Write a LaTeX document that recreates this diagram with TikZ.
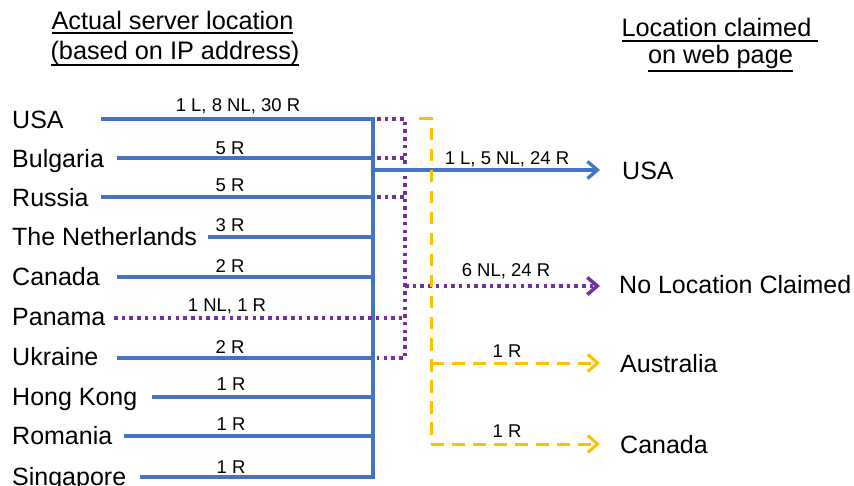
\documentclass[tikz,border=0pt]{standalone}
\usepackage{fontspec}
\setmainfont{Liberation Sans}
\usetikzlibrary{arrows.meta}
\definecolor{cblue}{HTML}{4472C4}
\definecolor{cpurple}{HTML}{7030A0}
\definecolor{cyellow}{HTML}{FFC000}
\newcommand\myul[2]{{\setbox0\hbox{#2}\rlap{\rule[-#1]{\wd0}{1.6pt}}\box0}}
\begin{document}
\begin{tikzpicture}[x=1pt,y=-1pt,
  country/.style={anchor=base west,inner sep=0pt,font=\fontsize{25}{28}\selectfont},
  count/.style={anchor=base,inner sep=0pt,font=\fontsize{18.5}{21}\selectfont},
  head/.style={anchor=base,inner sep=0pt,font=\fontsize{25.3}{28}\selectfont},
  bl/.style={draw=cblue,line width=3.3pt},
  pu/.style={draw=cpurple,line width=3.5pt,dash pattern=on 3.5pt off 4.2pt},
  ye/.style={draw=cyellow,line width=3pt,dash pattern=on 12.5pt off 8.5pt},
  tip/.style={-{Straight Barb[length=10pt,width=17pt]}}
]
\useasboundingbox (0,0) rectangle (854,486);

% headings
\node[head] (h1) at (172.5,30) {\myul{3.8pt}{Actual server location}};
\node[head] (h2) at (175,59.5) {\myul{6.3pt}{(based on IP address)}};
\node[head] (h3) at (720,37) {\myul{4.8pt}{Location claimed\ }};
\node[head] (h4) at (720.5,64) {\myul{7.8pt}{on web page}};

% countries (left)
\node[country] (cusa) at (12,129) {USA};
\node[country] (cbul) at (12,168) {Bulgaria};
\node[country] (crus) at (12,207) {Russia};
\node[country] (cnet) at (12,246) {The Netherlands};
\node[country] (ccan) at (12,286) {Canada};
\node[country] (cpan) at (12,325.5) {Panama};
\node[country] (cukr) at (12,365) {Ukraine};
\node[country] (chk)  at (12,405) {Hong Kong};
\node[country] (crom) at (12,444) {Romania};
\node[country] (csin) at (12,485) {Singapore};

% line start points
\coordinate (susa) at (101,119);
\coordinate (sbul) at (117,158);
\coordinate (srus) at (101,197);
\coordinate (snet) at (208,237);
\coordinate (scan) at (117,277);
\coordinate (span) at (114,318);
\coordinate (sukr) at (117,358);
\coordinate (shk)  at (152,397);
\coordinate (srom) at (124,436);
\coordinate (ssin) at (140,477);

% bus points
\coordinate (busa) at (373,119);
\coordinate (bbul) at (373,158);
\coordinate (brus) at (373,197);
\coordinate (bnet) at (373,237);
\coordinate (bcan) at (373,277);
\coordinate (bukr) at (373,358);
\coordinate (bhk)  at (373,397);
\coordinate (brom) at (373,436);
\coordinate (bsin) at (373,477);
\coordinate (bout) at (373,170);

% blue lines
\draw[bl,line join=miter] (susa) -- (busa) -- (bsin) -- (ssin);
\draw[bl] (sbul) -- (bbul);
\draw[bl] (srus) -- (brus);
\draw[bl] (snet) -- (bnet);
\draw[bl] (scan) -- (bcan);
\draw[bl] (sukr) -- (bukr);
\draw[bl] (shk) -- (bhk);
\draw[bl] (srom) -- (brom);

% counts (left)
\node[count] (nusa) at (238,112) {1 L, 8 NL, 30 R};
\node[count] (nbul) at (230,155) {5 R};
\node[count] (nrus) at (230,192) {5 R};
\node[count] (nnet) at (230,232) {3 R};
\node[count] (ncan) at (230,273) {2 R};
\node[count] (npan) at (227,312) {1 NL, 1 R};
\node[count] (nukr) at (230,353) {2 R};
\node[count] (nhk)  at (231,390) {1 R};
\node[count] (nrom) at (231,430) {1 R};
\node[count] (nsin) at (231,473) {1 R};

% purple collector
\coordinate (pa) at (377,119);
\coordinate (pb) at (405,119);
\coordinate (pc) at (405,358);
\coordinate (pd) at (377,358);
\coordinate (pbul) at (377,158);
\coordinate (pbulv) at (405,158);
\coordinate (prus) at (377,197);
\coordinate (prusv) at (405,197);
\coordinate (ppan) at (405,318);
\coordinate (pout) at (405,286);
\draw[pu] (pa) -- (pb) -- (pc) -- (pd);
\draw[pu] (pbul) -- (pbulv);
\draw[pu] (prus) -- (prusv);
\draw[pu] (span) -- (ppan);

% yellow collector
\coordinate (ya) at (419,119);
\coordinate (yb) at (431,119);
\coordinate (yc) at (431,444);
\coordinate (yaus) at (431,363);

% right labels
\node[country] (rusa) at (622,180) {USA};
\node[country] (rnlc) at (619,294) {No Location Claimed};
\node[country] (raus) at (620,372) {Australia};
\node[country] (rcan) at (620,453) {Canada};

\coordinate (eusa) at (600,170);
\coordinate (enlc) at (600,286);
\coordinate (eaus) at (600,363);
\coordinate (ecan) at (600,444);

\draw[bl,tip] (bout) -- (eusa);
\draw[pu,tip] (pout) -- (enlc);
\draw[ye] (ya) -- (yb) -- (yc);
\draw[ye,tip] (yc) -- (ecan);
\draw[ye,tip] (yaus) -- (eaus);

% counts (right)
\node[count] (musa) at (507,165) {1 L, 5 NL, 24 R};
\node[count] (mnlc) at (506,277) {6 NL, 24 R};
\node[count] (maus) at (507,357) {1 R};
\node[count] (mcan) at (507,437) {1 R};
\end{tikzpicture}
\end{document}
